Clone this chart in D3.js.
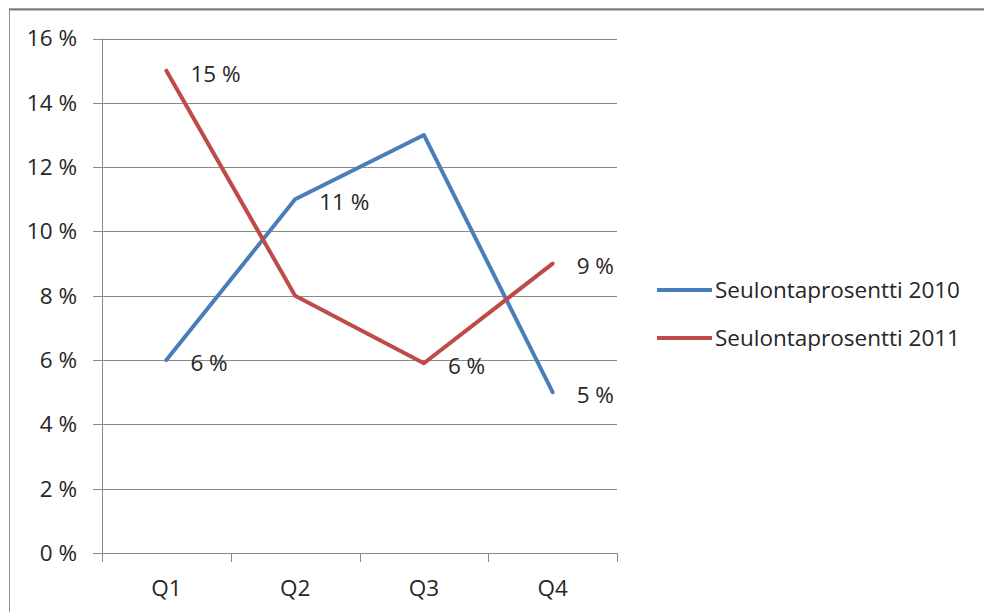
<!DOCTYPE html>
<html><head><meta charset="utf-8">
<script src="https://cdn.jsdelivr.net/npm/d3@7"></script>
<style>
html,body{margin:0;padding:0;background:#fff;}
svg{display:block;}
text{font-family:"Open Sans",Lato,sans-serif;fill:#262626;}
</style></head>
<body>
<svg id="c" width="984" height="612"></svg>
<script>
const categories = ["Q1","Q2","Q3","Q4"];
const seriesNames = ["Seulontaprosentti 2010","Seulontaprosentti 2011"];
const values2010 = [6, 11, 13, 5];
const values2011 = [15, 8, 5.9, 9];
const showLabel2010 = [true, true, false, true];
const showLabel2011 = [true, false, true, true];
const yTicks = [0, 2, 4, 6, 8, 10, 12, 14, 16];
const colors = ["#4A7EBB", "#BE4B48"];

const series = [
  {name: seriesNames[0], values: values2010, show: showLabel2010, color: colors[0]},
  {name: seriesNames[1], values: values2011, show: showLabel2011, color: colors[1]}
];

const svg = d3.select("#c");
const FS = 22.5;
const fmt = v => Math.round(v) + " %";

// outer frame
svg.append("rect").attr("x", 9.5).attr("y", 9).attr("width", 990).attr("height", 620)
  .attr("fill", "none").attr("stroke", "#8c8c8c").attr("stroke-width", 1);
svg.append("line").attr("x1", 9).attr("x2", 984).attr("y1", 9.5).attr("y2", 9.5)
  .attr("stroke", "#7a7a7a").attr("stroke-width", 2);

const L = 102, R = 617, T = 38.5, B = 553;
const x = d3.scaleBand().domain(categories).range([L, R]);
const y = d3.scaleLinear().domain([0, 16]).range([B, T]);

const g = svg.append("g");

// gridlines
g.selectAll("line.grid").data(yTicks).join("line")
  .attr("x1", L - 9).attr("x2", R)
  .attr("y1", d => Math.round(y(d)) + 0.5).attr("y2", d => Math.round(y(d)) + 0.5)
  .attr("stroke", "#8a8a8a").attr("stroke-width", 1);

// y axis line
g.append("line").attr("x1", L + 0.5).attr("x2", L + 0.5).attr("y1", y(16)).attr("y2", B + 9)
  .attr("stroke", "#8a8a8a");

// x tick marks at band boundaries
const bounds = categories.map(c => x(c)).concat([R]);
g.selectAll("line.xt").data(bounds.slice(1)).join("line")
  .attr("x1", d => Math.round(d) + 0.5).attr("x2", d => Math.round(d) + 0.5)
  .attr("y1", B).attr("y2", B + 9).attr("stroke", "#8a8a8a");

// y labels
g.selectAll("text.yl").data(yTicks).join("text")
  .attr("x", 77).attr("y", d => y(d)).attr("dy", "0.35em")
  .attr("text-anchor", "end").attr("font-size", FS)
  .text(d => d + " %");

// x labels
g.selectAll("text.xl").data(categories).join("text")
  .attr("x", d => x(d) + x.bandwidth() / 2).attr("y", 588).attr("dy", "0.35em")
  .attr("text-anchor", "middle").attr("font-size", FS)
  .text(d => d);

const line = d3.line().x((d, i) => x(categories[i]) + x.bandwidth() / 2).y(d => y(d));

series.forEach(s => {
  g.append("path").datum(s.values).attr("d", line)
    .attr("fill", "none").attr("stroke", s.color).attr("stroke-width", 4)
    .attr("stroke-linejoin", "round").attr("stroke-linecap", "round");
  g.selectAll(null).data(s.values.map((v, i) => ({v, i})).filter(d => s.show[d.i])).join("text")
    .attr("x", d => x(categories[d.i]) + x.bandwidth() / 2 + 24)
    .attr("y", d => y(d.v) + 3).attr("dy", "0.35em")
    .attr("font-size", FS)
    .text(d => fmt(d.v));
});

// legend
const lg = svg.append("g");
series.forEach((s, i) => {
  const ly = 290 + i * 48;
  lg.append("line").attr("x1", 657).attr("x2", 712).attr("y1", ly).attr("y2", ly)
    .attr("stroke", s.color).attr("stroke-width", 4);
  lg.append("text").attr("x", 715).attr("y", ly).attr("dy", "0.35em")
    .attr("font-size", FS).text(s.name);
});
</script>
</body></html>
